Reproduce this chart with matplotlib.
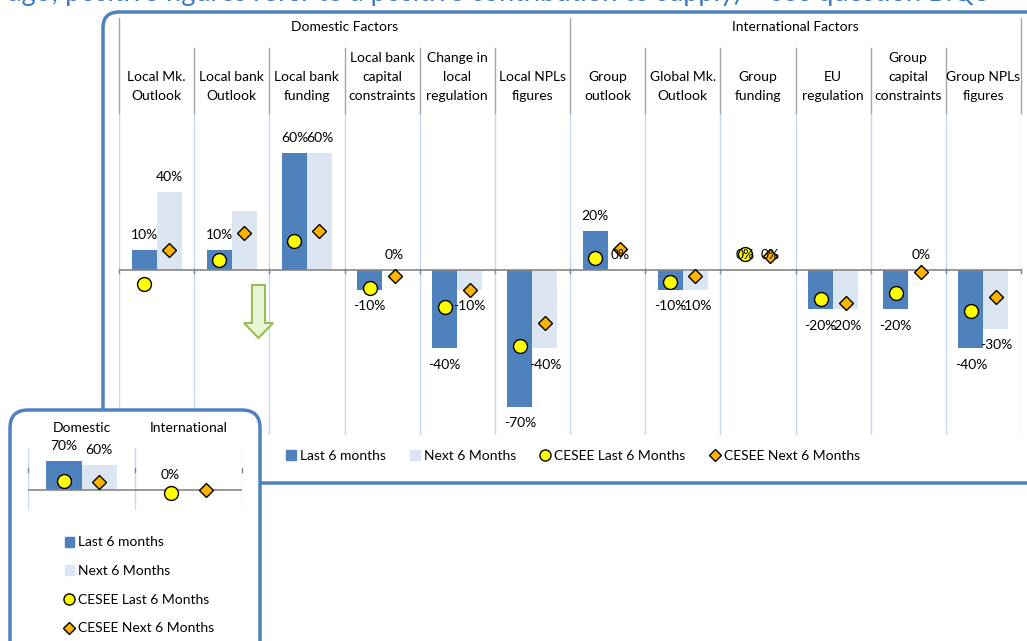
import matplotlib
matplotlib.use('Agg')
import matplotlib.pyplot as plt
from matplotlib.patches import FancyBboxPatch, Polygon, Patch
from matplotlib.lines import Line2D

plt.rcParams['font.family'] = ['Lato', 'DejaVu Sans']

# Chart data
categories = ['Local Mk.\nOutlook', 'Local bank\nOutlook', 'Local bank\nfunding',
              'Local bank\ncapital\nconstraints', 'Change in\nlocal\nregulation',
              'Local NPLs\nfigures', 'Group\noutlook', 'Global Mk.\nOutlook',
              'Group\nfunding', 'EU\nregulation', 'Group\ncapital\nconstraints',
              'Group NPLs\nfigures']
groups = ['Domestic Factors', 'International Factors']
last6 = [10, 10, 60, -10, -40, -70, 20, -10, 0, -20, -20, -40]
next6 = [40, 30, 60, 0, -10, -40, 0, -10, 0, -20, 0, -30]
cesee_last = [-7, 5, 15, -9, -19, -39, 6, -6, 8, -15, -12, -21]
cesee_next = [10, 19, 20, -3, -10, -27, 11, -3, 7, -17, -1, -14]
next6_shown = [True, False, True, True, True, True, True, True, True, True, True, True]

mini_cats = ['Domestic', 'International']
mini_last = [70, 0]
mini_next = [60, 0]
mini_cesee_last = [22, -7]
mini_cesee_next = [19, 1]
mini_next_shown = [True, False]

legend_labels = ['Last 6 months', 'Next 6 Months', 'CESEE Last 6 Months', 'CESEE Next 6 Months']
note = 'ago; positive figures refer to a positive contribution to supply) \u2013 see question B.Q3'

DARK = '#4F81BD'
LIGHT = '#DCE6F2'
YEL = '#FFFF00'
ORG = '#FFB400'
SEP = '#C6D9F1'
GRID = '#A6A6A6'
BOX = '#4F81BD'

W, H = 1027, 641
fig = plt.figure(figsize=(W / 100, H / 100), dpi=100)


def px_axes(l, t, r, b, z):
    a = fig.add_axes([l / W, 1 - b / H, (r - l) / W, (b - t) / H])
    a.set_zorder(z)
    return a


# background layer: frame and cut-off note
bg = px_axes(0, 0, W, H, 0)
bg.set_xlim(0, W)
bg.set_ylim(H, 0)
bg.axis('off')
bg.add_patch(FancyBboxPatch((103, 12), 960, 471, boxstyle='round,pad=0,rounding_size=16',
                            fc='white', ec=BOX, lw=2.5))
bg.text(990, 0.5, note, ha='right', va='baseline', fontsize=19.5, color='#3C78C3')


def draw_bars(ax, last, nxt, c_last, c_next, lab_next, msize):
    x = list(range(len(last)))
    xl = [i - 1 / 6 for i in x]
    xn = [i + 1 / 6 for i in x]
    ax.bar(xl, last, width=1 / 3, color=DARK, zorder=2)
    ax.bar(xn, nxt, width=1 / 3, color=LIGHT, zorder=2)
    ax.axhline(0, color='#868686', lw=1.2, zorder=3)
    for s in range(len(last) + 1):
        ax.axvline(s - 0.5, color=SEP, lw=1, zorder=1)
    ax.plot(xl, c_last, 'o', ms=msize, mfc=YEL, mec='black', mew=1, ls='none', zorder=5)
    ax.plot(xn, c_next, 'D', ms=msize * 0.75, mfc=ORG, mec='black', mew=1, ls='none', zorder=5)
    for xs, vals, shown in [(xl, last, [True] * len(last)), (xn, nxt, lab_next)]:
        for xi, v, sh in zip(xs, vals, shown):
            if not sh:
                continue
            off = -12 if v < 0 else 11
            ax.annotate(f'{v}%', (xi, v), xytext=(0, off), textcoords='offset points',
                        ha='center', va='center', fontsize=10, zorder=6)
    ax.set_xlim(-0.5, len(last) - 0.5)
    for s in ax.spines.values():
        s.set_visible(False)
    ax.set_xticks([])
    ax.set_yticks([])
    ax.patch.set_alpha(0)


# main chart
ax = px_axes(119, 113, 1021, 435, 1)
ax.set_ylim(-84.6, 80.5)
draw_bars(ax, last6, next6, cesee_last, cesee_next, next6_shown, 10)
tr = ax.get_xaxis_transform()
h_ax = 435 - 113
for s in range(len(categories) + 1):
    top = 18 if s in (0, 6, 12) else 48
    ax.plot([s - 0.5, s - 0.5], [1, 1 + (113 - top) / h_ax], color=GRID, lw=1,
            transform=tr, clip_on=False)
    ax.plot([s - 0.5, s - 0.5], [0.5155, 0.5155 - 4 / h_ax], color='#868686', lw=1,
            transform=tr, clip_on=False, zorder=3)
for i, c in enumerate(categories):
    ax.text(i, 1 + 11 / h_ax, c, ha='center', va='bottom', fontsize=10, linespacing=1.7,
            transform=tr)
for g, name in enumerate(groups):
    ax.text(2.5 + 6 * g, 1 + (113 - 27) / h_ax, name, ha='center', va='center',
            fontsize=10, transform=tr)

# foreground: small box and arrow
fg = px_axes(0, 0, W, H, 2)
fg.set_xlim(0, W)
fg.set_ylim(H, 0)
fg.axis('off')
fg.add_patch(FancyBboxPatch((10, 410), 250, 260, boxstyle='round,pad=0,rounding_size=18',
                            fc='white', ec=BOX, lw=2.5))
arrow = [(252, 285), (265, 285), (265, 323), (273, 323), (258.5, 338), (244, 323), (252, 323)]
fg.add_patch(Polygon(arrow, closed=True, fc='#EAF6D8', ec='#9BBB59', lw=1.5))

# mini chart
mx = px_axes(28, 448, 242, 510, 3)
mx.set_ylim(-48.3, 101.4)
draw_bars(mx, mini_last, mini_next, mini_cesee_last, mini_cesee_next, mini_next_shown, 10)
mtr = mx.get_xaxis_transform()
for s in range(3):
    mx.plot([s - 0.5, s - 0.5], [0.678, 0.678 - 4 / 62], color='#868686', lw=1,
            transform=mtr, clip_on=False, zorder=3)
for i, c in enumerate(mini_cats):
    mx.text(i, 1 + 20 / 62, c, ha='center', va='center', fontsize=10, transform=mtr)

handles = [Patch(color=DARK), Patch(color=LIGHT),
           Line2D([], [], marker='o', ls='none', mfc=YEL, mec='black', ms=8),
           Line2D([], [], marker='D', ls='none', mfc=ORG, mec='black', ms=6)]
fig.legend(handles, legend_labels, loc='center', bbox_to_anchor=(573 / W, 1 - 456 / H),
           ncol=4, frameon=False, fontsize=10, handlelength=0.7, handleheight=0.7,
           handletextpad=0.3, columnspacing=1.75)
fig.legend(handles, legend_labels, loc='upper left', bbox_to_anchor=(52 / W, 1 - 524 / H),
           ncol=1, frameon=False, fontsize=10, handlelength=0.7, handleheight=0.7,
           handletextpad=0.3, labelspacing=1.2)

fig.savefig('out.png', dpi=100)
